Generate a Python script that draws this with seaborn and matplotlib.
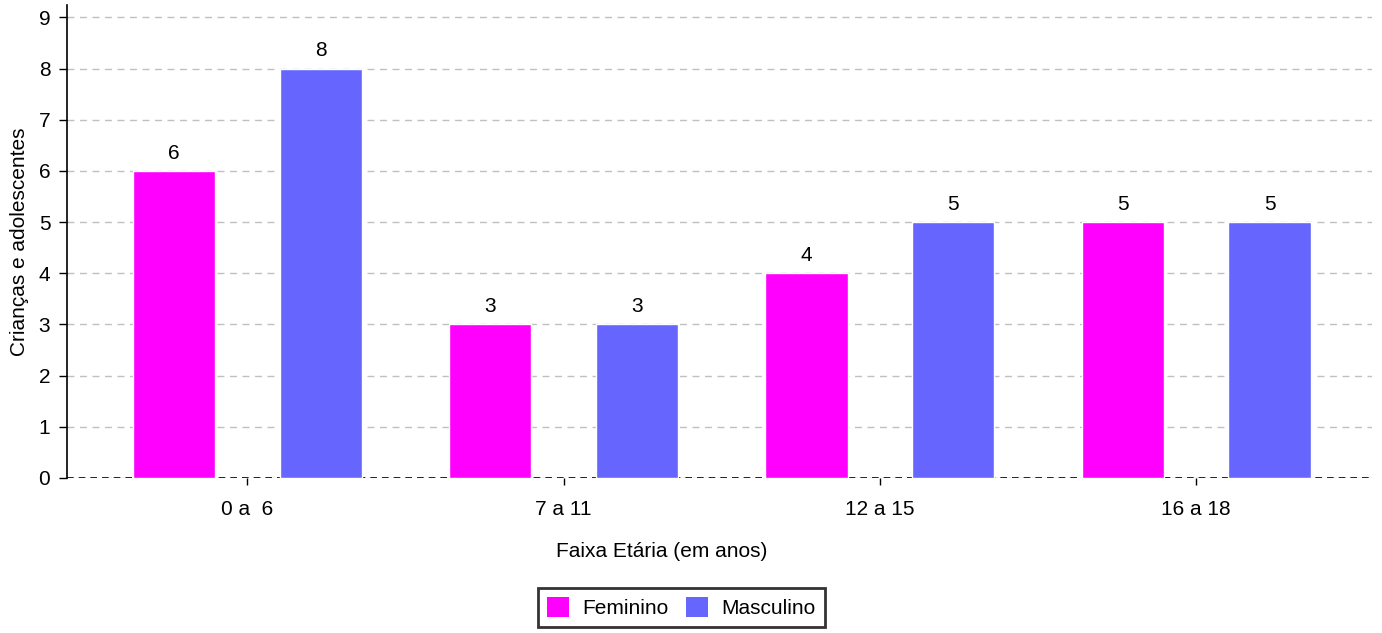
import matplotlib
matplotlib.use("Agg")
import matplotlib.pyplot as plt
import seaborn as sns
import pandas as pd
from matplotlib.patches import Patch

categories = ["0 a  6", "7 a 11", "12 a 15", "16 a 18"]
feminino = [6, 3, 4, 5]
masculino = [8, 3, 5, 5]
series_names = ["Feminino", "Masculino"]
colors = ["#FF00FF", "#6666FF"]
yticks = list(range(0, 10))

df = pd.DataFrame({
    "cat": categories * 2,
    "val": feminino + masculino,
    "sexo": [series_names[0]] * 4 + [series_names[1]] * 4,
})

sns.set_theme(style="white", rc={"text.color": "black", "axes.labelcolor": "black",
                                 "xtick.color": "black", "ytick.color": "black"})
plt.rcParams["font.family"] = ["Liberation Sans", "DejaVu Sans"]
FS = 15

fig = plt.figure(figsize=(13.82, 6.33), dpi=100)
ax = fig.add_axes([0.0485, 0.2449, 0.9443, 0.747])

sns.barplot(data=df, x="cat", y="val", hue="sexo", order=categories,
            hue_order=series_names, palette=colors, width=0.928, gap=0.44,
            saturation=1, ax=ax, legend=False, errorbar=None)

for c in ax.containers:
    ax.bar_label(c, padding=6, fontsize=FS, color="black")

ax.set_xlim(-0.57, 3.556)
ax.set_ylim(0, 9.24)
ax.set_yticks(yticks)
ax.yaxis.grid(True, color="#c0c0c0", linestyle=(0, (5, 4)), linewidth=1)
ax.set_axisbelow(True)
ax.axhline(0, color="black", linestyle=(0, (4, 3)), linewidth=1.2, zorder=0.9)

for s in ["top", "right", "bottom"]:
    ax.spines[s].set_visible(False)
ax.spines["left"].set_color("black")
ax.spines["left"].set_linewidth(1.2)

ax.tick_params(axis="y", left=True, length=6, width=1, color="black", labelcolor="black",
               labelsize=FS, pad=6)
ax.tick_params(axis="x", bottom=True, length=5, width=1, color="black", labelcolor="black",
               labelsize=FS, pad=11)
ax.set_xlabel("")
ax.set_ylabel("Crianças e adolescentes", fontsize=FS, labelpad=7, color="black")

fig.text(0.479, 0.1295, "Faixa Etária (em anos)", ha="center", va="center",
         fontsize=FS, color="black")

handles = [Patch(facecolor=col, edgecolor="none") for col in colors]
leg = fig.legend(handles, series_names, loc="center", bbox_to_anchor=(0.493, 0.040),
                 ncol=2, frameon=True, fancybox=False, fontsize=FS,
                 handlelength=1.05, handleheight=1.05, handletextpad=0.65,
                 columnspacing=0.8, borderpad=0.45, borderaxespad=0)
leg.get_frame().set_edgecolor("black")
leg.get_frame().set_linewidth(2)
for t in leg.get_texts():
    t.set_color("black")

fig.savefig("out.png", dpi=100)
